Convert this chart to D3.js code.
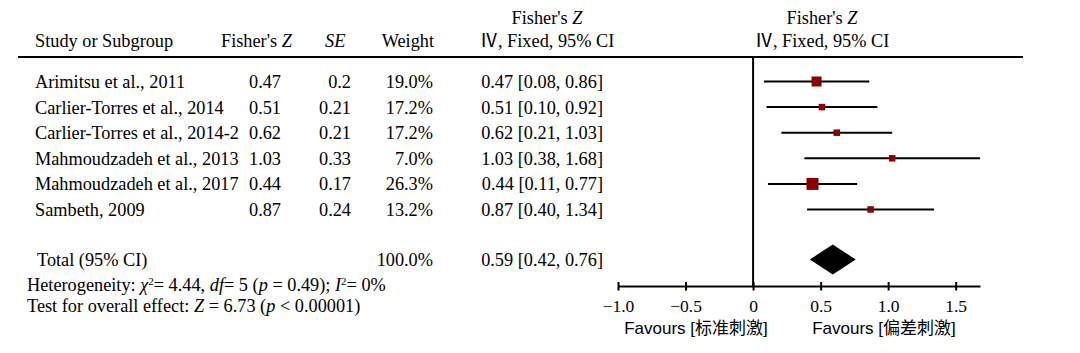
<!DOCTYPE html>
<html>
<head>
<meta charset="utf-8">
<script src="https://cdn.jsdelivr.net/npm/d3@7"></script>
<style>
  html, body { margin: 0; padding: 0; background: #fff; }
  svg { display: block; }
  text { font-family: "Liberation Serif", "Times New Roman", "Noto Sans CJK SC", serif; fill: #000; }
  .sans { font-family: "Liberation Sans", Arial, "Noto Sans CJK SC", sans-serif; }
</style>
</head>
<body>
<script>
// ---------- data ----------
const studies = [
  "Arimitsu et al., 2011",
  "Carlier-Torres et al., 2014",
  "Carlier-Torres et al., 2014-2",
  "Mahmoudzadeh et al., 2013",
  "Mahmoudzadeh et al., 2017",
  "Sambeth, 2009"
];
const fisherZ = [0.47, 0.51, 0.62, 1.03, 0.44, 0.87];
const seVals = ["0.2", "0.21", "0.21", "0.33", "0.17", "0.24"];
const weights = [19.0, 17.2, 17.2, 7.0, 26.3, 13.2];
const ciLow = [0.08, 0.10, 0.21, 0.38, 0.11, 0.40];
const ciHigh = [0.86, 0.92, 1.03, 1.68, 0.77, 1.34];
const totalZ = 0.59, totalLow = 0.42, totalHigh = 0.76, totalWeight = 100.0;
const xTicks = [-1.0, -0.5, 0, 0.5, 1.0, 1.5];
const xDomain = [-1.0, 1.68];
const favourLabels = ["Favours [标准刺激]", "Favours [偏差刺激]"];

// ---------- layout ----------
const W = 1080, H = 353;
const FS = 18.3;
const svg = d3.select("body").append("svg").attr("width", W).attr("height", H);
svg.append("rect").attr("width", W).attr("height", H).attr("fill", "#fff");

const x = d3.scaleLinear().domain(xDomain).range([618, 980]);
const y = d3.scalePoint().domain(d3.range(studies.length)).range([81.5, 209.5]);
const yTotal = 259.5;
const axisY = 286;
const sq = d3.scaleLinear().domain([7, 17.2, 19, 26.3]).range([6.5, 6.5, 10, 12]);
const fmt2 = d3.format(".2f");
const ciText = (z, lo, hi) => `${fmt2(z)} [${fmt2(lo)}, ${fmt2(hi)}]`;

// ---------- header ----------
function txt(g, xx, yy, anchor) {
  return g.append("text").attr("x", xx).attr("y", yy).attr("dy", "0.35em")
    .attr("text-anchor", anchor || "start").attr("font-size", FS);
}
const hdr = svg.append("g");
txt(hdr, 35, 41).text("Study or Subgroup");
let t = txt(hdr, 221, 41); t.append("tspan").text("Fisher's "); t.append("tspan").attr("font-style", "italic").text("Z");
txt(hdr, 325, 41).attr("font-style", "italic").text("SE");
txt(hdr, 434, 41, "end").text("Weight");
[547, 822].forEach(cx => {
  let a = txt(hdr, cx, 18, "middle"); a.append("tspan").text("Fisher's "); a.append("tspan").attr("font-style", "italic").text("Z");
  txt(hdr, cx, 41, "middle").text("Ⅳ, Fixed, 95% CI");
});
svg.append("line").attr("x1", 18).attr("x2", 1023).attr("y1", 57).attr("y2", 57)
  .attr("stroke", "#000").attr("stroke-width", 2.2);

// ---------- rows ----------
const rows = svg.append("g").selectAll("g").data(studies).join("g");
rows.each(function(d, i) {
  const g = d3.select(this);
  const yy = y(i);
  txt(g, 35, yy).text(d);
  txt(g, 249, yy).text(fmt2(fisherZ[i]));
  txt(g, 351, yy, "end").text(seVals[i]);
  txt(g, 433, yy, "end").text(d3.format(".1f")(weights[i]) + "%");
  txt(g, 603, yy, "end").text(ciText(fisherZ[i], ciLow[i], ciHigh[i]));
  g.append("line").attr("x1", x(ciLow[i])).attr("x2", x(ciHigh[i]))
    .attr("y1", yy).attr("y2", yy).attr("stroke", "#000").attr("stroke-width", 2);
  const s = sq(weights[i]);
  g.append("rect").attr("x", x(fisherZ[i]) - s / 2).attr("y", yy - s / 2)
    .attr("width", s).attr("height", s).attr("fill", "#8b0000");
});

// ---------- total ----------
const tg = svg.append("g");
txt(tg, 37, yTotal).text("Total (95% CI)");
txt(tg, 433, yTotal, "end").text(d3.format(".1f")(totalWeight) + "%");
txt(tg, 603, yTotal, "end").text(ciText(totalZ, totalLow, totalHigh));
tg.append("path").attr("d", d3.line()([
  [x(totalLow), yTotal], [x(totalZ), yTotal - 15], [x(totalHigh), yTotal], [x(totalZ), yTotal + 15]
]) + "Z").attr("fill", "#000");

// ---------- stats ----------
const sg = svg.append("g");
let h = txt(sg, 27, 285);
h.append("tspan").text("Heterogeneity: ");
h.append("tspan").attr("font-style", "italic").text("χ");
h.append("tspan").attr("font-size", FS * 0.6).attr("dy", "-0.6em").text("2");
h.append("tspan").attr("dy", "0.35em").text("= 4.44, ");
h.append("tspan").attr("font-style", "italic").text("df");
h.append("tspan").text("= 5 (");
h.append("tspan").attr("font-style", "italic").text("p");
h.append("tspan").text(" = 0.49); ");
h.append("tspan").attr("font-style", "italic").text("I");
h.append("tspan").attr("font-size", FS * 0.6).attr("dy", "-0.6em").text("2");
h.append("tspan").attr("dy", "0.35em").text("= 0%");
h.attr("dy", null).attr("y", 285 + FS * 0.35);
let tt = txt(sg, 27, 306);
tt.append("tspan").text("Test for overall effect: ");
tt.append("tspan").attr("font-style", "italic").text("Z");
tt.append("tspan").text(" = 6.73 (");
tt.append("tspan").attr("font-style", "italic").text("p");
tt.append("tspan").text(" < 0.00001)");

// ---------- axis ----------
svg.append("line").attr("x1", x(0)).attr("x2", x(0)).attr("y1", 57).attr("y2", axisY)
  .attr("stroke", "#000").attr("stroke-width", 2);
const axis = d3.axisBottom(x).tickValues(xTicks).tickSizeInner(4.5).tickSizeOuter(0)
  .tickPadding(9).tickFormat(d => d === 0 ? "0" : d3.format(".1f")(d));
const ag = svg.append("g").attr("transform", `translate(0,${axisY})`).call(axis);
ag.select(".domain").attr("stroke-width", 2);
ag.selectAll(".tick line").attr("y1", -4).attr("stroke-width", 2);
ag.selectAll(".tick text").attr("font-size", 17.5).attr("font-family", null);
ag.attr("font-family", null).attr("font-size", null);

svg.append("text").attr("class", "sans").attr("x", 696).attr("y", 328).attr("dy", "0.35em")
  .attr("text-anchor", "middle").attr("font-size", 17).text(favourLabels[0]);
svg.append("text").attr("class", "sans").attr("x", 884).attr("y", 328).attr("dy", "0.35em")
  .attr("text-anchor", "middle").attr("font-size", 17).text(favourLabels[1]);
</script>
</body>
</html>
